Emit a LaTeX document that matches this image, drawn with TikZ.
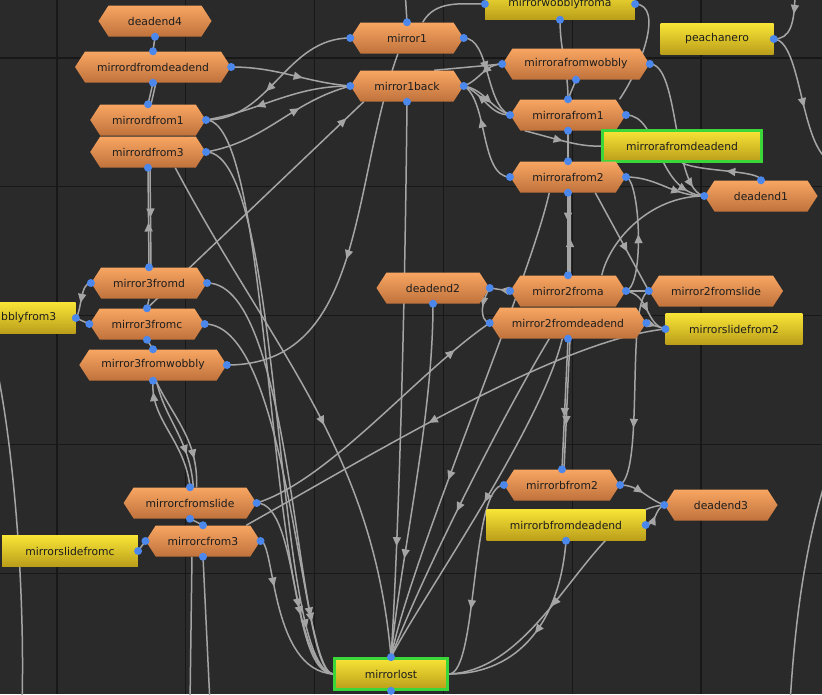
\documentclass[tikz,border=0pt]{standalone}
\usepackage{fontspec}
\newfontfamily\labelsans{DejaVu Sans}
\usepackage{tikz}
\usetikzlibrary{positioning}
\usetikzlibrary{arrows.meta}
\usetikzlibrary{decorations.markings}

\definecolor{bgdark}{RGB}{42,42,42}
\definecolor{gridline}{RGB}{24,24,24}
\definecolor{edge}{RGB}{165,165,165}
\definecolor{hexTop}{RGB}{248,166,98}
\definecolor{hexBot}{RGB}{192,114,60}
\definecolor{boxTop}{RGB}{248,228,54}
\definecolor{boxBot}{RGB}{186,158,26}
\definecolor{glow}{RGB}{58,214,58}
\definecolor{portblue}{RGB}{76,136,236}
\definecolor{txtdark}{RGB}{28,28,28}

\pgfdeclarelayer{back}
\pgfdeclarelayer{wires}
\pgfsetlayers{back,wires,main}

\tikzset{
  state/.style={rectangle, minimum width=3.39cm, minimum height=0.93cm, inner xsep=0.66cm,
    font={\labelsans\fontsize{9.2}{11}\selectfont}, text=txtdark,
    path picture={\shade[top color=hexTop, bottom color=hexBot]
      (path picture bounding box.west) -- ([xshift=0.3cm]path picture bounding box.north west)
      -- ([xshift=-0.3cm]path picture bounding box.north east) -- (path picture bounding box.east)
      -- ([xshift=-0.3cm]path picture bounding box.south east) -- ([xshift=0.3cm]path picture bounding box.south west) -- cycle;}},
  box/.style={rectangle, minimum width=3.39cm, minimum height=0.93cm, inner xsep=0.7cm,
    font={\labelsans\fontsize{9.2}{11}\selectfont}, text=txtdark, top color=boxTop, bottom color=boxBot},
  active/.style={box, draw=glow, line width=0.08cm},
  port/.style={fill=portblue},
  link/.style={draw, color=edge, line width=0.045cm},
  arr/.style={postaction={decorate}, decoration={markings, mark=at position #1 with {\arrow{Triangle[length=0.27cm,width=0.24cm]}}}}
}

\begin{document}
\begin{tikzpicture}[x=0.03cm, y=-0.03cm]
\useasboundingbox (0,0) rectangle (822,694);

\begin{pgfonlayer}{back}
\fill[bgdark] (0,0) rectangle (822,694);
\foreach \k in {0,...,5} \draw[gridline, line width=0.04cm] (57+128.8*\k,0) -- (57+128.8*\k,694);
\foreach \k in {0,...,4} \draw[gridline, line width=0.04cm] (0,58+128.8*\k) -- (822,58+128.8*\k);
\end{pgfonlayer}

% states
\node[state] (deadend4) at (155,21) {deadend4};
\node[state] (mirrordfromdeadend) at (153,67) {mirrordfromdeadend};
\node[state] (mirrordfrom1) at (148,120) {mirrordfrom1};
\node[state] (mirrordfrom3) at (148,152) {mirrordfrom3};
\node[state] (mirror1) at (407,38) {mirror1};
\node[state] (mirror1back) at (407,86) {mirror1back};
\node[box] (mirrorwobblyfroma) at (560,4) {mirrorwobblyfroma};
\node[box] (peachanero) at (717,39) {peachanero};
\node[state] (mirrorafromwobbly) at (576,64) {mirrorafromwobbly};
\node[state] (mirrorafrom1) at (568,115) {mirrorafrom1};
\node[active] (mirrorafromdeadend) at (682,146) {mirrorafromdeadend};
\node[state] (mirrorafrom2) at (568,177) {mirrorafrom2};
\node[state] (deadend1) at (761,196) {deadend1};
\node[state] (deadend2) at (433,288) {deadend2};
\node[state] (mirror2froma) at (568,291) {mirror2froma};
\node[state] (mirror2fromslide) at (716,291) {mirror2fromslide};
\node[state] (mirror2fromdeadend) at (568,323) {mirror2fromdeadend};
\node[box] (mirrorslidefrom2) at (734,329) {mirrorslidefrom2};
\node[state] (mirror3fromd) at (149,283) {mirror3fromd};
\node[state] (mirror3fromc) at (147,324) {mirror3fromc};
\node[box, minimum width=0cm, text width=2.2cm, align=left, inner xsep=0.03cm, anchor=west] (wobbly3) at (0,318) {bblyfrom3};
\node[state] (mirror3fromwobbly) at (153,365) {mirror3fromwobbly};
\node[state] (mirrorcfromslide) at (190,503) {mirrorcfromslide};
\node[state] (mirrorcfrom3) at (203,541) {mirrorcfrom3};
\node[box] (mirrorslidefromc) at (70,551) {mirrorslidefromc};
\node[state] (mirrorbfrom2) at (562,485) {mirrorbfrom2};
\node[box] (mirrorbfromdeadend) at (566,525) {mirrorbfromdeadend};
\node[state] (deadend3) at (721,505) {deadend3};
\node[active] (mirrorlost) at (391,674) {mirrorlost};

% free ends
\coordinate (top1) at (405,-10);
\coordinate (offtop) at (795,-10);
\coordinate (offright) at (832,162);
\coordinate (lefttop) at (-5,360);
\coordinate (leftbot) at (22,704);
\coordinate (rightmid) at (832,460);
\coordinate (rightbot) at (790,704);
\coordinate (botc1) at (210,704);
\coordinate (botc2) at (190,704);

\begin{pgfonlayer}{wires}
% left column
\draw[link] (deadend4.south) -- (mirrordfromdeadend.north);
\draw[link] (mirrordfromdeadend.south) -- (mirrordfrom1.north);
\draw[link] ([xshift=0.09cm]mirrordfromdeadend.south) -- ([xshift=0.09cm]mirrordfrom1.north);
\draw[link, arr=0.45] (mirror3fromd.north) -- (mirrordfrom3.south);
\draw[link, arr=0.5] ([xshift=0.06cm]mirrordfrom3.south) -- ([xshift=0.06cm]mirror3fromd.north);
\draw[link] (mirror3fromd.south) -- (mirror3fromc.north);
\draw[link] (mirror3fromc.south) -- (mirror3fromwobbly.north);
\draw[link, arr=0.9] (mirrorcfromslide.north) .. controls (185,440) and (150,420) .. (mirror3fromwobbly.south);
\draw[link, arr=0.7] ([xshift=0.1cm]mirror3fromwobbly.south) .. controls (165,420) and (190,440) .. ([xshift=0.1cm]mirrorcfromslide.north);
\draw[link, arr=0.75] (mirror3fromwobbly.-80) .. controls (175,420) and (198,440) .. ([xshift=0.2cm]mirrorcfromslide.north);
\draw[link] (mirrorcfromslide.south) -- (mirrorcfrom3.north);
\draw[link, arr=0.6] (mirror3fromd.west) .. controls (80,283) and (82,310) .. (wobbly3.east);
\draw[link] (mirror3fromc.west) -- (wobbly3.east);
\draw[link] (mirrorslidefromc.east) -- (mirrorcfrom3.west);
\draw[link] (mirrorcfrom3.south) -- (botc1);
\draw[link] (mirrorcfrom3.235) -- (botc2);
\draw[link] (lefttop) .. controls (15,450) and (25,600) .. (leftbot);

% to and from mirror1, mirror1back
\draw[link, arr=0.6] (mirror1.west) to[out=180, in=0] (mirrordfrom1.east);
\draw[link, arr=0.65] (mirror1back.west) to[out=180, in=10] (mirrordfrom1.east);
\draw[link, arr=0.6] (mirrordfromdeadend.east) to[out=0, in=175] (mirror1back.west);
\draw[link, arr=0.65] (mirrordfrom3.east) to[out=10, in=195] (mirror1back.west);
\draw[link, arr=0.92] (mirror3fromc.north) -- (mirror1back.200);
\draw[link, arr=0.55] (mirror1.240) to[out=-110, in=0] (mirror3fromwobbly.east);
\draw[link] (mirror1.north) -- (top1);
\draw[link] (mirror1.45) to[out=60, in=180] (mirrorwobblyfroma.west);
\draw[link] (mirror1back.30) -- (mirrorafromwobbly.west);
\draw[link, arr=0.5] (mirrorafromwobbly.west) to[out=180, in=20] (mirror1back.east);
\draw[link, arr=0.45] (mirror1.east) .. controls (490,38) and (485,105) .. (mirrorafrom1.west);
\draw[link, arr=0.6] (mirror1back.east) to[out=-10, in=160] (mirrorafrom1.west);
\draw[link, arr=0.65] (mirrorafrom2.west) .. controls (480,177) and (488,100) .. (mirror1back.east);
\draw[link, arr=0.7] (mirrorafrom1.west) to[out=180, in=-20] (mirror1back.east);

% into mirrorlost
\draw[link, arr=0.88] (mirrordfrom1.east) .. controls (275,120) and (265,665) .. (mirrorlost.west);
\draw[link, arr=0.9] (mirrordfrom3.east) .. controls (285,152) and (272,668) .. (mirrorlost.west);
\draw[link, arr=0.85] (mirror3fromd.east) .. controls (295,283) and (295,672) .. (mirrorlost.west);
\draw[link, arr=0.85] (mirror3fromc.east) .. controls (290,324) and (300,672) .. (mirrorlost.west);
\draw[link, arr=0.6] (mirrorcfromslide.east) .. controls (300,503) and (290,672) .. (mirrorlost.west);
\draw[link, arr=0.3] (mirrorcfrom3.east) .. controls (275,541) and (270,670) .. (mirrorlost.west);
\draw[link, arr=0.55] (mirrordfrom3.-30) to[out=-62, in=95] (mirrorlost.north);
\draw[link, arr=0.8] (mirror1back.south) .. controls (404,400) and (395,600) .. (mirrorlost.north);
\draw[link, arr=0.72] (deadend2.south) .. controls (433,420) and (400,560) .. (mirrorlost.north);
\draw[link, arr=0.62] (mirrorafrom2.220) .. controls (530,280) and (410,560) .. (mirrorlost.north);
\draw[link, arr=0.55] (mirror2fromdeadend.220) .. controls (500,420) and (420,580) .. (mirrorlost.north);
\draw[link, arr=0.5] (mirror2fromdeadend.250) .. controls (540,430) and (420,600) .. (mirrorlost.north);
\draw[link, arr=0.65] (mirrorbfrom2.west) .. controls (470,485) and (478,674) .. (mirrorlost.east);
\draw[link, arr=0.5] (mirrorbfromdeadend.south) .. controls (560,620) and (520,674) .. (mirrorlost.east);
\draw[link, arr=0.55] (deadend3.west) .. controls (590,510) and (545,670) .. (mirrorlost.east);

% right half
\draw[link] (mirrorwobblyfroma.south) to[out=-90, in=90] (mirrorafrom1.north);
\draw[link] (mirrorafromwobbly.south) -- (mirrorafrom1.north);
\draw[link] (mirrorafrom1.south) -- (mirrorafrom2.north);
\draw[link, arr=0.35] (mirrorafrom2.south) -- (mirror2froma.north);
\draw[link, arr=0.45] ([xshift=0.06cm]mirror2froma.north) -- ([xshift=0.06cm]mirrorafrom2.south);
\draw[link, arr=0.6] (mirror2fromdeadend.south) -- (mirrorbfrom2.north);
\draw[link, arr=0.66] ([xshift=0.06cm]mirror2fromdeadend.south) -- ([xshift=0.06cm]mirrorbfrom2.north);
\draw[link, arr=0.4] (mirrorafrom1.17) .. controls (640,70) and (665,5) .. (mirrorwobblyfroma.east);
\draw[link, arr=0.5] (mirrorafrom1.200) .. controls (560,140) and (580,147) .. (mirrorafromdeadend.west);
\draw[link, arr=0.55] (peachanero.east) .. controls (802,40) and (800,150) .. (offright);
\draw[link, arr=0.4] (offtop) .. controls (795,25) and (790,39) .. (peachanero.east);
\draw[link, arr=0.9] (mirrorafromwobbly.east) .. controls (680,64) and (672,190) .. (deadend1.west);
\draw[link, arr=0.85] (mirrorafrom1.east) .. controls (660,115) and (655,192) .. (deadend1.west);
\draw[link, arr=0.7] (mirrorafrom2.east) to[out=0, in=180] (deadend1.west);
\draw[link, arr=0.45] (deadend1.north) .. controls (760,170) and (700,172) .. (mirrorafromdeadend.south);
\draw[link] (deadend1.west) .. controls (650,196) and (610,240) .. (mirror2froma.25);
\draw[link, arr=0.5] (mirror2froma.east) .. controls (645,285) and (640,180) .. (mirrorafrom2.east);
\draw[link, arr=0.6] (mirrorafrom2.-30) -- (mirror2fromslide.west);
\draw[link, arr=0.5] (mirror2froma.west) -- (deadend2.east);
\draw[link, arr=0.5] (deadend2.east) .. controls (482,300) and (478,320) .. (mirror2fromdeadend.west);
\draw[link] (mirror2froma.east) -- (mirror2fromslide.west);
\draw[link, arr=0.5] (mirror2fromdeadend.east) -- (mirrorslidefrom2.west);
\draw[link, arr=0.55] (mirror2froma.east) .. controls (650,295) and (645,325) .. (mirrorslidefrom2.west);
\draw[link, arr=0.7] (mirror2fromslide.west) .. controls (625,300) and (645,470) .. (mirrorbfrom2.east);
\draw[link, arr=0.5] (mirrorbfrom2.east) to[out=0, in=160] (deadend3.west);
\draw[link, arr=0.5] (mirrorbfromdeadend.east) to[out=0, in=200] (deadend3.west);
\draw[link, arr=0.55] (mirrorslidefrom2.west) .. controls (560,340) and (380,450) .. (mirrorcfrom3.20);
\draw[link, arr=0.85] (mirrorcfromslide.east) .. controls (330,480) and (420,370) .. (mirror2fromdeadend.west);
\draw[link] (rightmid) .. controls (805,540) and (795,620) .. (rightbot);
\end{pgfonlayer}

% ports
\foreach \p in {deadend4.south, mirrordfromdeadend.north, mirrordfromdeadend.east, mirrordfromdeadend.south,
  mirrordfrom1.north, mirrordfrom1.east, mirrordfrom3.east, mirrordfrom3.south,
  mirror1.west, mirror1.east, mirror1.north, mirror1back.west, mirror1back.east, mirror1back.south,
  mirrorwobblyfroma.west, mirrorwobblyfroma.east, mirrorwobblyfroma.south, peachanero.east,
  mirrorafromwobbly.west, mirrorafromwobbly.east, mirrorafromwobbly.south,
  mirrorafrom1.west, mirrorafrom1.east, mirrorafrom1.north, mirrorafrom1.south,
  mirrorafrom2.west, mirrorafrom2.east, mirrorafrom2.north, mirrorafrom2.south,
  deadend1.west, deadend1.north, deadend2.east, deadend2.south,
  mirror2froma.west, mirror2froma.east, mirror2froma.north, mirror2fromslide.west,
  mirror2fromdeadend.west, mirror2fromdeadend.east, mirror2fromdeadend.south, mirrorslidefrom2.west,
  mirror3fromd.west, mirror3fromd.east, mirror3fromd.north, mirror3fromc.west, mirror3fromc.east,
  mirror3fromc.north, mirror3fromc.south, wobbly3.east,
  mirror3fromwobbly.east, mirror3fromwobbly.north, mirror3fromwobbly.south,
  mirrorcfromslide.east, mirrorcfromslide.north, mirrorcfromslide.south,
  mirrorcfrom3.west, mirrorcfrom3.east, mirrorcfrom3.north, mirrorcfrom3.south, mirrorslidefromc.east,
  mirrorbfrom2.west, mirrorbfrom2.east, mirrorbfrom2.north, mirrorbfromdeadend.east, mirrorbfromdeadend.south,
  deadend3.west, mirrorlost.north, mirrorlost.south}
  \fill[port] (\p) circle (0.12cm);
\end{tikzpicture}
\end{document}
